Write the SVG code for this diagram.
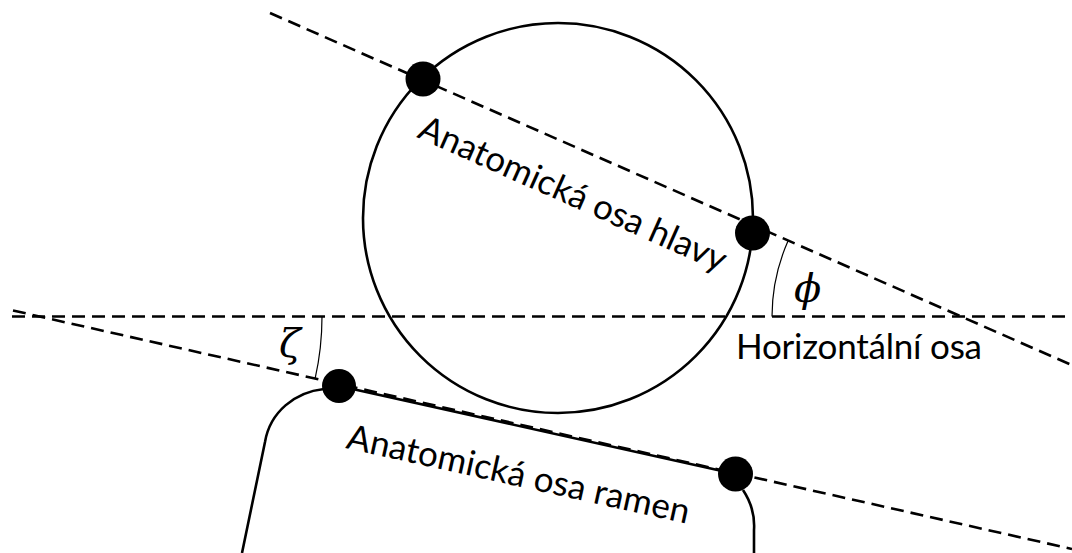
<svg xmlns="http://www.w3.org/2000/svg" width="1072" height="553" viewBox="0 0 1072 553">
  <style>
    .dash { fill: none; stroke: #000; stroke-width: 2.6; stroke-dasharray: 13 7; }
    .solid { fill: none; stroke: #000; stroke-width: 2.6; }
    .thin { fill: none; stroke: #000; stroke-width: 1.2; }
    .dot { fill: #000; }
    .lbl { font-family: Lato, "Open Sans", sans-serif; font-size: 35px; fill: #000; }
    .greek { font-family: "DejaVu Serif", "Liberation Serif", serif; font-style: italic; font-size: 40px; fill: #000; }
  </style>
  <rect width="1072" height="553" fill="#fff"/>

  <g id="head">
    <circle class="solid" cx="558" cy="218" r="195"/>
  </g>

  <g id="shoulders">
    <path class="solid" d="M 324,389 C 295,392 270,412 265,442 L 242,553"/>
    <path class="solid" d="M 743,490 C 751,502 755,515 754,530 L 754,553"/>
    <line class="solid" x1="339" y1="386" x2="735.5" y2="474"/>
  </g>

  <g id="connectors">
    <line id="head-axis" class="dash" x1="270" y1="13" x2="1072" y2="365.2"/>
    <line id="horizontal-axis" class="dash" x1="12" y1="316.5" x2="1066" y2="316.5"/>
    <line id="shoulder-axis" class="dash" x1="13" y1="310.5" x2="1072" y2="549"/>
    <path id="phi-arc" class="thin" d="M 788,241 A 188 188 0 0 0 772,316.5"/>
    <path id="zeta-arc" class="thin" d="M 322,316.5 A 283 283 0 0 1 315.1,378.7"/>
  </g>

  <g id="points">
    <circle class="dot" cx="423" cy="79" r="17.5"/>
    <circle class="dot" cx="752.5" cy="233" r="17.5"/>
    <circle class="dot" cx="339" cy="386" r="17"/>
    <circle class="dot" cx="735.5" cy="474" r="17.5"/>
  </g>

  <g id="labels">
    <text class="lbl" transform="translate(416,137) rotate(24)" textLength="333">Anatomická osa hlavy</text>
    <text class="lbl" transform="translate(345,448) rotate(12.5)" textLength="350">Anatomická osa ramen</text>
    <text class="lbl" x="736" y="359" textLength="246">Horizontální osa</text>
    <text class="greek" x="794" y="302">ϕ</text>
    <text class="greek" x="279" y="357">ζ</text>
  </g>
</svg>
